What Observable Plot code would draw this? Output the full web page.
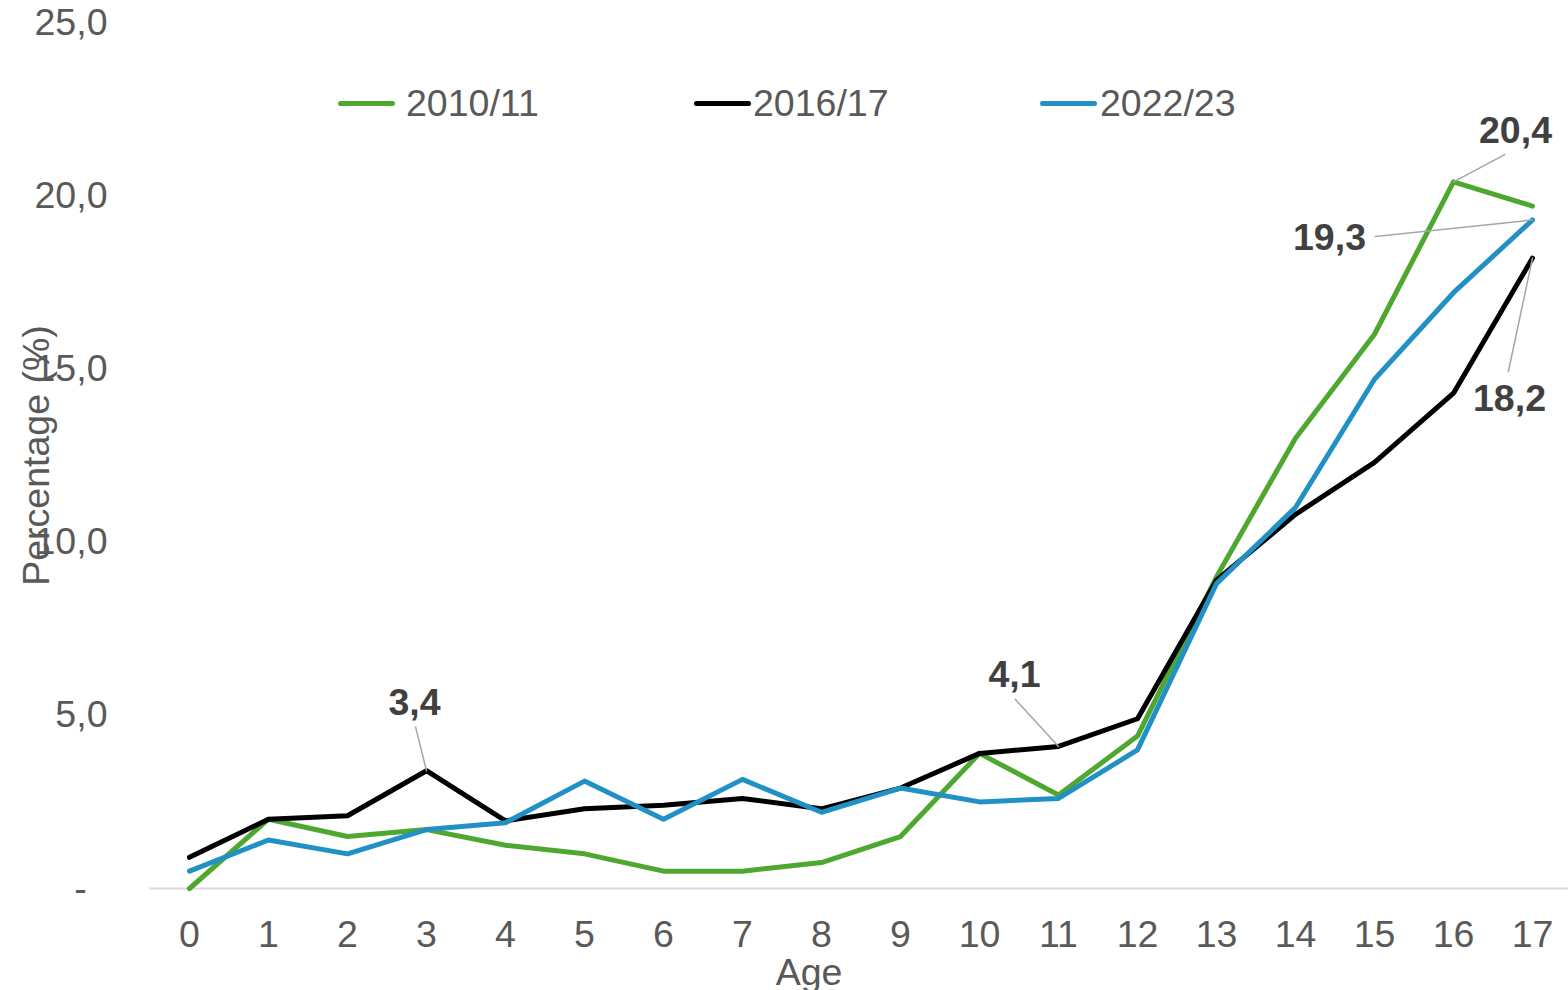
<!DOCTYPE html>
<html>
<head>
<meta charset="utf-8">
<script src="https://cdn.jsdelivr.net/npm/d3@7"></script>
<script src="https://cdn.jsdelivr.net/npm/@observablehq/plot@0.6"></script>
<style>
  html, body { margin: 0; padding: 0; background: #ffffff; }
  #wrap { position: relative; width: 1568px; height: 990px; font-family: "Liberation Sans", Arial, sans-serif; }
  .sw { position: absolute; width: 57px; height: 5px; border-radius: 3px; top: 101px; }
  .lt { position: absolute; top: 85px; font-size: 37.5px; line-height: 37.5px; color: #595959; white-space: nowrap; }
</style>
</head>
<body>
<div id="wrap"></div>
<script>
// ---- Data ----
const ages = [0, 1, 2, 3, 4, 5, 6, 7, 8, 9, 10, 11, 12, 13, 14, 15, 16, 17];
const series2010 = [0.0, 2.0, 1.5, 1.7, 1.25, 1.0, 0.5, 0.5, 0.75, 1.5, 3.9, 2.7, 4.4, 9.0, 13.0, 16.0, 20.4, 19.7];
const series2016 = [0.9, 2.0, 2.1, 3.4, 1.95, 2.3, 2.4, 2.6, 2.3, 2.9, 3.9, 4.1, 4.9, 8.9, 10.8, 12.3, 14.3, 18.2];
const series2022 = [0.5, 1.4, 1.0, 1.7, 1.9, 3.1, 2.0, 3.15, 2.2, 2.9, 2.5, 2.6, 4.0, 8.8, 11.0, 14.7, 17.2, 19.3];
const seriesNames = ["2010/11", "2016/17", "2022/23"];
const yTicks = [5, 10, 15, 20, 25];
// labelled points: [series index, age]
const labelPoints = [[1, 3], [1, 11], [0, 16], [2, 17], [1, 17]];

// ---- Styles / layout ----
const FS = 37.5;
const seriesColors = ["#4EA72E", "#000000", "#2191C5"];
const labelLayout = [
  { dx: -12, dy: -68, len: 45, rot: -14 },
  { dx: -44, dy: -71, len: 64, rot: -42.5 },
  { dx: 62, dy: -51, len: 58, rot: 62 },
  { dx: -203, dy: 18, len: 158, rot: -96 },
  { dx: -23, dy: 141, len: 116, rot: -168 }
];
const legendLayout = [
  { sw: 338, tx: 406 },
  { sw: 694, tx: 753 },
  { sw: 1040, tx: 1100 }
];

const allSeries = [series2010, series2016, series2022];
const rows = [];
seriesNames.forEach((s, i) => ages.forEach((a, j) => rows.push({ series: s, age: a, value: allSeries[i][j] })));

const fmt = v => v.toFixed(1).replace(".", ",");
const labels = labelPoints.map(([si, age], k) => ({
  age, value: allSeries[si][age], text: fmt(allSeries[si][age]), ...labelLayout[k]
}));

const leaderShape = { draw(ctx, l) { ctx.moveTo(0, 0); ctx.lineTo(0, -l); } };

const chart = Plot.plot({
  width: 1568,
  height: 990,
  marginTop: 22,
  marginBottom: 102,
  marginLeft: 189,
  marginRight: 36,
  style: { fontFamily: "Liberation Sans, Arial, sans-serif", fontSize: FS + "px", color: "#595959", background: "#ffffff", overflow: "visible" },
  x: { domain: [0, 17] },
  y: { domain: [0, 25] },
  length: { type: "identity" },
  color: { domain: seriesNames, range: seriesColors },
  marks: [
    Plot.ruleY([0], { x1: -0.5, x2: 17.5, stroke: "#d9d9d9", strokeWidth: 2 }),
    Plot.axisX(ages, { tickSize: 0, tickPadding: 32, fontSize: FS, fill: "#595959", label: null, tickFormat: d => String(d) }),
    Plot.axisY(yTicks, { tickSize: 0, tickPadding: 82, fontSize: FS, fill: "#595959", label: null, tickFormat: fmt }),
    Plot.axisY([0], { tickSize: 0, tickPadding: 109, textAnchor: "middle", fontSize: FS, fill: "#595959", label: null, tickFormat: () => "-" }),
    Plot.line(rows, { x: "age", y: "value", z: "series", stroke: "series", strokeWidth: 5, strokeLinecap: "round", strokeLinejoin: "round" }),
    Plot.vector(labels, { x: "age", y: "value", length: "len", rotate: "rot", anchor: "start", shape: leaderShape, stroke: "#a6a6a6", strokeWidth: 1.5 }),
    ...labels.map(l => Plot.text([l], { x: "age", y: "value", text: "text", dx: l.dx, dy: l.dy, fontWeight: "bold", fontSize: FS, fill: "#404040" })),
    Plot.text(["Age"], { frameAnchor: "bottom", lineAnchor: "middle", textAnchor: "middle", dx: -52, dy: 84, fontSize: FS, fill: "#595959" }),
    Plot.text(["Percentage (%)"], { frameAnchor: "left", lineAnchor: "middle", textAnchor: "middle", rotate: -90, dx: -153, fontSize: FS, fill: "#595959" })
  ]
});

const wrap = document.getElementById("wrap");
wrap.appendChild(chart);
seriesNames.forEach((s, i) => {
  const sw = document.createElement("div");
  sw.className = "sw";
  sw.style.left = legendLayout[i].sw + "px";
  sw.style.background = seriesColors[i];
  wrap.appendChild(sw);
  const t = document.createElement("div");
  t.className = "lt";
  t.style.left = legendLayout[i].tx + "px";
  t.textContent = s;
  wrap.appendChild(t);
});
</script>
</body>
</html>
